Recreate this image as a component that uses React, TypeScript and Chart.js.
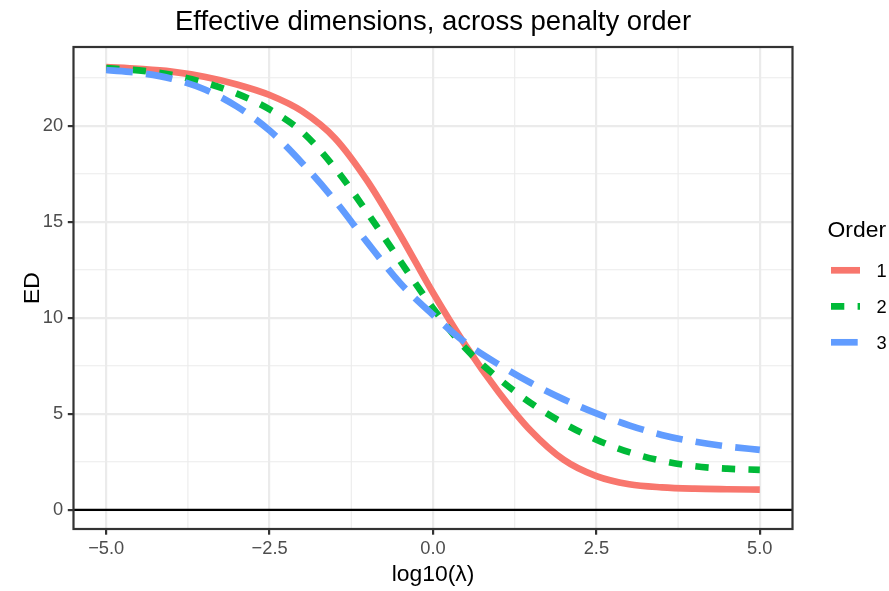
import React, { useEffect, useRef } from 'react';
import { Chart, registerables } from 'chart.js';

Chart.register(...registerables);

// ---- data ----
const LOG10_LAMBDA = [-5, -4.5, -4, -3.5, -3, -2.5, -2, -1.5, -1, -0.5, 0, 0.5, 1, 1.5, 2, 2.5, 3, 3.5, 4, 4.5, 5];
const ED_ORDER_1 = [23.05, 22.96, 22.82, 22.55, 22.15, 21.6, 20.75, 19.35, 17.1, 14.3, 11.3, 8.55, 6.15, 4.1, 2.6, 1.75, 1.33, 1.17, 1.1, 1.07, 1.05];
const ED_ORDER_2 = [23.0, 22.88, 22.65, 22.25, 21.67, 20.85, 19.67, 17.8, 15.45, 12.95, 10.5, 8.4, 6.85, 5.55, 4.5, 3.65, 3.0, 2.55, 2.27, 2.14, 2.08];
const ED_ORDER_3 = [22.9, 22.75, 22.45, 21.9, 21.0, 19.75, 18.05, 16.1, 13.9, 11.8, 10.15, 8.7, 7.58, 6.6, 5.75, 5.02, 4.4, 3.9, 3.55, 3.3, 3.12];
const ORDER_LABELS = ['1', '2', '3'];
const HLINE_Y = 0;

const X_RANGE = [-5.5, 5.5];
const Y_RANGE = [-1.0, 24.1];
const X_MAJOR_TICKS = [-5, -2.5, 0, 2.5, 5];
const X_TICK_LABELS = ['\u22125.0', '\u22122.5', '0.0', '2.5', '5.0'];
const X_MINOR_TICKS = [-3.75, -1.25, 1.25, 3.75];
const Y_MAJOR_TICKS = [0, 5, 10, 15, 20];
const Y_TICK_LABELS = ['0', '5', '10', '15', '20'];
const Y_MINOR_TICKS = [2.5, 7.5, 12.5, 17.5, 22.5];

const TITLE = 'Effective dimensions, across penalty order';
const X_TITLE = 'log10(\u03bb)';
const Y_TITLE = 'ED';
const LEGEND_TITLE = 'Order';

// ---- styles ----
const FONT = "'Liberation Sans', Arial, Helvetica, sans-serif";
const COLORS = ['#F8766D', '#00BA38', '#619CFF'];
const DASHES = [[], [13.3, 13.3], [26.7, 13.3]];
const LINE_W = 6.67;

const ggPlugin = {
  id: 'ggDecor',
  beforeDatasetsDraw(chart: any) {
    const { ctx, chartArea: a, scales } = chart;
    const x = scales.x;
    const y = scales.y;
    ctx.save();
    ctx.strokeStyle = '#EBEBEB';
    ctx.lineWidth = 1.1;
    X_MINOR_TICKS.forEach((v) => {
      const px = x.getPixelForValue(v);
      ctx.beginPath();
      ctx.moveTo(px, a.top);
      ctx.lineTo(px, a.bottom);
      ctx.stroke();
    });
    Y_MINOR_TICKS.forEach((v) => {
      const py = y.getPixelForValue(v);
      ctx.beginPath();
      ctx.moveTo(a.left, py);
      ctx.lineTo(a.right, py);
      ctx.stroke();
    });
    ctx.restore();
  },
  afterDatasetsDraw(chart: any) {
    const { ctx, chartArea: a } = chart;
    ctx.save();
    ctx.strokeStyle = '#333333';
    ctx.lineWidth = 2.2;
    ctx.setLineDash([]);
    ctx.strokeRect(a.left, a.top, a.right - a.left, a.bottom - a.top);
    ctx.restore();
  },
  afterDraw(chart: any) {
    const { ctx, chartArea: a } = chart;
    ctx.save();
    // title
    ctx.fillStyle = '#000000';
    ctx.font = `27.5px ${FONT}`;
    ctx.textAlign = 'center';
    ctx.textBaseline = 'alphabetic';
    ctx.fillText(TITLE, (a.left + a.right) / 2, 30);
    // legend
    ctx.textAlign = 'left';
    ctx.font = `22.9px ${FONT}`;
    ctx.fillText(LEGEND_TITLE, 827.5, 236.5);
    ORDER_LABELS.forEach((lab, i) => {
      const yy = 270.3 + 36 * i;
      ctx.beginPath();
      ctx.strokeStyle = COLORS[i];
      ctx.lineWidth = LINE_W;
      ctx.lineCap = 'butt';
      ctx.setLineDash(DASHES[i]);
      ctx.moveTo(831, yy);
      ctx.lineTo(860, yy);
      ctx.stroke();
      ctx.setLineDash([]);
      ctx.fillStyle = '#000000';
      ctx.font = `18.3px ${FONT}`;
      ctx.fillText(lab, 876.5, yy + 6.6);
    });
    ctx.restore();
  },
};

export default function App() {
  const ref = useRef<HTMLCanvasElement | null>(null);

  useEffect(() => {
    document.body.style.margin = '0';
    const canvas = ref.current;
    if (!canvas) return;
    const pts = (arr: number[]) => LOG10_LAMBDA.map((x, i) => ({ x, y: arr[i] }));
    const series = [ED_ORDER_1, ED_ORDER_2, ED_ORDER_3];

    const datasets: any[] = series.map((s, i) => ({
      label: ORDER_LABELS[i],
      data: pts(s),
      borderColor: COLORS[i],
      backgroundColor: COLORS[i],
      borderWidth: LINE_W,
      borderDash: DASHES[i],
      borderCapStyle: 'butt',
      borderJoinStyle: 'round',
      pointRadius: 0,
      fill: false,
      cubicInterpolationMode: 'monotone',
      order: 3 - i,
    }));
    datasets.push({
      label: 'hline',
      data: [
        { x: X_RANGE[0], y: HLINE_Y },
        { x: X_RANGE[1], y: HLINE_Y },
      ],
      borderColor: '#000000',
      borderWidth: 2.2,
      pointRadius: 0,
      fill: false,
      order: 0,
    });

    const tickFont = { family: FONT, size: 18.3 };
    const chart = new Chart(canvas, {
      type: 'line',
      data: { datasets },
      plugins: [ggPlugin],
      options: {
        animation: false,
        responsive: false,
        devicePixelRatio: 1,
        events: [],
        layout: { padding: { top: 47, right: 96.5, bottom: 0, left: 0 } },
        plugins: {
          legend: { display: false },
          title: { display: false },
          tooltip: { enabled: false },
        },
        scales: {
          x: {
            type: 'linear',
            min: X_RANGE[0],
            max: X_RANGE[1],
            afterBuildTicks: (scale: any) => {
              scale.ticks = X_MAJOR_TICKS.map((v) => ({ value: v }));
            },
            afterFit: (scale: any) => {
              scale.height = 62;
            },
            ticks: {
              autoSkip: false,
              maxRotation: 0,
              minRotation: 0,
              padding: 3.5,
              color: '#4D4D4D',
              font: tickFont,
              callback: (_v: any, i: number) => X_TICK_LABELS[i],
            },
            grid: {
              color: '#EBEBEB',
              lineWidth: 2.2,
              drawTicks: true,
              tickLength: 5.7,
              tickColor: '#333333',
              tickWidth: 2.2,
            },
            border: { display: false },
            title: {
              display: true,
              text: X_TITLE,
              color: '#000000',
              font: { family: FONT, size: 22.9 },
              padding: { top: 0, bottom: 2.3 },
            },
          },
          y: {
            type: 'linear',
            min: Y_RANGE[0],
            max: Y_RANGE[1],
            afterBuildTicks: (scale: any) => {
              scale.ticks = Y_MAJOR_TICKS.map((v) => ({ value: v }));
            },
            afterFit: (scale: any) => {
              scale.width = 73.5;
            },
            ticks: {
              autoSkip: false,
              padding: 4.6,
              color: '#4D4D4D',
              font: tickFont,
              callback: (_v: any, i: number) => Y_TICK_LABELS[i],
            },
            grid: {
              color: '#EBEBEB',
              lineWidth: 2.2,
              drawTicks: true,
              tickLength: 5.7,
              tickColor: '#333333',
              tickWidth: 2.2,
            },
            border: { display: false },
            title: {
              display: true,
              text: Y_TITLE,
              color: '#000000',
              font: { family: FONT, size: 22.9 },
              padding: { top: 18.5, bottom: 0 },
            },
          },
        },
      },
    } as any);

    return () => {
      chart.destroy();
    };
  }, []);

  return (
    <div style={{ width: 889, height: 591, position: 'relative' }}>
      <canvas ref={ref} width={889} height={591} style={{ display: 'block' }} />
    </div>
  );
}
